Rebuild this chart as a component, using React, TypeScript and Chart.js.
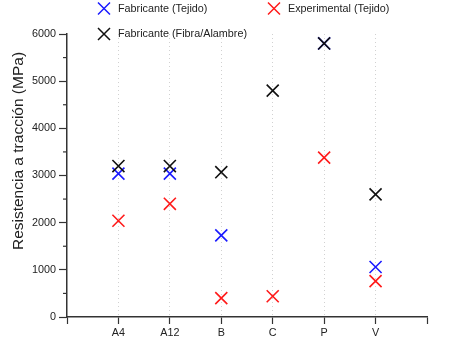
import React, { useEffect, useRef } from "react";
import { Chart, registerables } from "chart.js";

Chart.register(...registerables);

const categories = ["A4", "A12", "B", "C", "P", "V"];
const fabricanteTejido: (number | null)[] = [3040, 3040, 1730, null, 5800, 1060];
const experimentalTejido: (number | null)[] = [2040, 2400, 400, 440, 3380, 760];
const fabricanteFibra: (number | null)[] = [3200, 3200, 3070, 4800, 5800, 2600];
const yTicks = [0, 1000, 2000, 3000, 4000, 5000, 6000];
const yMinorTicks = [500, 1500, 2500, 3500, 4500, 5500];
const yTitle = "Resistencia a tracción (MPa)";

const seriesNames = ["Fabricante (Tejido)", "Experimental (Tejido)", "Fabricante (Fibra/Alambre)"];
const seriesColors = ["#1a1aff", "#ff1a1a", "#111111"];

const FONT = "'Liberation Sans', Arial, sans-serif";

const toPoints = (arr: (number | null)[]) =>
  arr
    .map((v, i) => (v == null ? null : { x: i + 1, y: v }))
    .filter((p) => p !== null) as { x: number; y: number }[];

const extrasPlugin = {
  id: "extras",
  afterDraw(chart: any) {
    const ctx = chart.ctx as CanvasRenderingContext2D;
    const ys = chart.scales.y;
    const area = chart.chartArea;
    ctx.save();
    // minor ticks
    ctx.strokeStyle = "#333";
    ctx.lineWidth = 1.2;
    yMinorTicks.forEach((v) => {
      const py = ys.getPixelForValue(v);
      ctx.beginPath();
      ctx.moveTo(area.left - 4, py);
      ctx.lineTo(area.left, py);
      ctx.stroke();
    });
    // y title
    ctx.save();
    ctx.translate(19, 151);
    ctx.rotate(-Math.PI / 2);
    ctx.font = `15.5px ${FONT}`;
    ctx.fillStyle = "#222";
    ctx.textAlign = "center";
    ctx.textBaseline = "middle";
    ctx.fillText(yTitle, 0, 0);
    ctx.restore();
    // legend
    const items = [
      { x: 104, y: 8.5, name: seriesNames[0], color: seriesColors[0] },
      { x: 274, y: 8.5, name: seriesNames[1], color: seriesColors[1] },
      { x: 104, y: 34, name: seriesNames[2], color: seriesColors[2] },
    ];
    ctx.font = `10.8px ${FONT}`;
    ctx.textAlign = "left";
    ctx.textBaseline = "middle";
    items.forEach((it) => {
      const r = 6;
      ctx.strokeStyle = it.color;
      ctx.lineWidth = 1.5;
      ctx.beginPath();
      ctx.moveTo(it.x - r, it.y - r);
      ctx.lineTo(it.x + r, it.y + r);
      ctx.moveTo(it.x - r, it.y + r);
      ctx.lineTo(it.x + r, it.y - r);
      ctx.stroke();
      ctx.fillStyle = "#222";
      ctx.fillText(it.name, it.x + 14, it.y + 0.5);
    });
    ctx.restore();
  },
};

export default function App() {
  const ref = useRef<HTMLCanvasElement | null>(null);
  useEffect(() => {
    if (!ref.current) return;
    const mk = (idx: number, data: (number | null)[]) => ({
      label: seriesNames[idx],
      data: toPoints(data),
      pointStyle: "crossRot" as const,
      pointRadius: 8.5,
      pointHoverRadius: 8.5,
      pointBorderWidth: 1.6,
      borderColor: seriesColors[idx],
      backgroundColor: seriesColors[idx],
      showLine: false,
      clip: false as any,
    });
    const chart = new Chart(ref.current, {
      type: "scatter",
      data: {
        datasets: [mk(2, fabricanteFibra), mk(1, experimentalTejido), mk(0, fabricanteTejido)],
      },
      plugins: [extrasPlugin],
      options: {
        responsive: false,
        animation: false,
        events: [],
        layout: { padding: { top: 34, right: 23, left: 0, bottom: 0 } },
        plugins: { legend: { display: false }, tooltip: { enabled: false }, title: { display: false } },
        scales: {
          x: {
            type: "linear",
            min: 0,
            max: categories.length + 1,
            afterFit: (s: any) => {
              s.height = 47;
            },
            afterBuildTicks: (s: any) => {
              s.ticks = Array.from({ length: categories.length + 2 }, (_, i) => ({ value: i }));
            },
            ticks: {
              autoSkip: false,
              maxRotation: 0,
              padding: 3,
              color: "#222",
              font: { family: FONT, size: 10.8 },
              callback: (v: any) => {
                const i = Number(v);
                return i >= 1 && i <= categories.length ? categories[i - 1] : "";
              },
            },
            grid: {
              color: (c: any) =>
                c.tick && (c.tick.value === 0 || c.tick.value === categories.length + 1)
                  ? "rgba(0,0,0,0)"
                  : "rgba(0,0,0,0.18)",
              lineWidth: 1,
              drawTicks: true,
              tickLength: 7,
              tickColor: "#333",
              tickWidth: 1.2,
              tickBorderDash: [],
            },
            border: { display: true, color: "#333", width: 1.5, dash: [1, 3] },
          },
          y: {
            type: "linear",
            min: 0,
            max: 6000,
            afterFit: (s: any) => {
              s.width = 67;
            },
            afterBuildTicks: (s: any) => {
              s.ticks = yTicks.map((v) => ({ value: v }));
            },
            ticks: {
              padding: 3,
              color: "#222",
              font: { family: FONT, size: 10.8 },
              callback: (v: any) => String(v),
            },
            grid: {
              drawOnChartArea: false,
              drawTicks: true,
              tickLength: 8,
              tickColor: "#333",
              tickWidth: 1.2,
              tickBorderDash: [],
            },
            border: { display: true, color: "#333", width: 1.5 },
          },
        },
      } as any,
    });
    return () => chart.destroy();
  }, []);
  return (
    <div style={{ position: "absolute", left: 0, top: 0, width: 450, height: 364, background: "#fff" }}>
      <canvas ref={ref} width={450} height={364} style={{ display: "block" }} />
    </div>
  );
}
